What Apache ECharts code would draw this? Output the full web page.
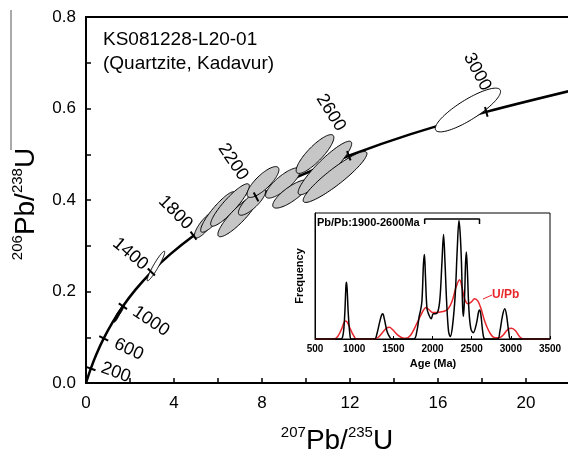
<!DOCTYPE html>
<html><head><meta charset="utf-8">
<script src="https://cdn.jsdelivr.net/npm/echarts@6/dist/echarts.min.js"></script>
<style>html,body{margin:0;padding:0;background:#fff}#c{width:568px;height:452px}</style>
</head><body><div id="c"></div>
<script>
// ---- Concordia reference curve (age in Ma, 207Pb/235U, 206Pb/238U)
const concAge = [0,200,400,600,800,1000,1200,1400,1600,1800,2000,2200,2400,2600,2800,3000,3200];
const concX = [0,0.2177,0.4828,0.8057,1.1988,1.6774,2.2603,2.9701,3.8345,4.8870,6.1688,7.7298,9.6304,11.9450,14.7617,18.1955,22.3746];
const concY = [0,0.0315,0.0640,0.0975,0.1321,0.1678,0.2046,0.2426,0.2817,0.3221,0.3638,0.4067,0.4511,0.4968,0.5440,0.5926,0.6428];
const tickAges = [200,600,1000,1400,1800,2200,2600,3000];

// ---- Analyses: grey ellipses (centre, half-extent x, half-extent y, error correlation)
const greyX   = [5.409,6.0,6.545,6.909,7.545,8.045,8.955,9.318,10.86,11.32,10.41];
const greyY   = [0.3454,0.3738,0.3891,0.365,0.3956,0.4393,0.4372,0.4131,0.470,0.4503,0.5005];
const greySx  = [0.482,0.788,0.880,0.914,0.618,0.724,0.793,0.83,1.217,1.45,0.857];
const greySy  = [0.0284,0.0443,0.0464,0.0453,0.0289,0.0337,0.0331,0.0308,0.0585,0.0556,0.0424];
const greyRho = [0.814,0.896,0.896,0.882,0.80,0.797,0.812,0.802,0.911,0.919,0.846];
// open ellipses
const openX   = [3.18,17.36];
const openY   = [0.2557,0.5967];
const openSx  = [0.399,1.484];
const openSy  = [0.0323,0.0478];
const openRho = [0.944,0.846];
// small black ellipses
const blackX   = [1.43,1.60];
const blackY   = [0.147,0.160];
const blackSx  = [0.16,0.14];
const blackSy  = [0.014,0.012];
const blackRho = [0.9,0.9];

// ---- Inset: probability curves
const pbAge = [500,830,860,880,895,902,910,925,945,965,1260,1290,1320,1350,1365,1385,1420,1450,1480,1760,1800,1830,1845,1865,1885,1897,1910,1930,1955,1983,2010,2040,2070,2095,2120,2141,2160,2180,2205,2227,2255,2290,2315,2338,2355,2370,2385,2395,2410,2422,2432,2445,2465,2490,2520,2560,2590,2603,2620,2645,2670,2830,2860,2895,2923,2945,2975,3000,3500];
const pbVal = [0,0,0.04,0.2,0.42,0.45,0.40,0.2,0.04,0,0,0.04,0.12,0.19,0.2,0.16,0.06,0.02,0,0,0.06,0.18,0.22,0.3,0.6,0.67,0.5,0.24,0.19,0.16,0.2,0.2,0.22,0.32,0.6,0.83,0.6,0.3,0.06,0.02,0.1,0.35,0.7,0.94,0.82,0.6,0.25,0.18,0.35,0.6,0.69,0.55,0.23,0.08,0.05,0.12,0.22,0.23,0.18,0.04,0,0,0.06,0.19,0.24,0.19,0.05,0,0];
const upbAge = [500,740,790,840,870,893,915,950,990,1030,1250,1300,1360,1410,1449,1490,1550,1610,1660,1720,1790,1860,1918,1960,2000,2050,2100,2150,2200,2250,2300,2346,2380,2410,2450,2490,2538,2580,2620,2667,2731,2795,2850,2900,2960,3009,3060,3110,3160,3500];
const upbVal = [0,0,0.02,0.08,0.13,0.143,0.13,0.08,0.03,0,0,0.01,0.05,0.085,0.093,0.075,0.035,0.01,0.005,0.03,0.11,0.2,0.25,0.23,0.21,0.21,0.215,0.22,0.24,0.3,0.41,0.47,0.4,0.32,0.28,0.29,0.32,0.3,0.24,0.14,0.05,0.01,0.01,0.03,0.075,0.085,0.065,0.02,0,0];
const bracketAges = [1900,2600];
const bracketLevels = [0.913,0.952];

// ---- Tick labels
const xTickLabels = ['0','4','8','12','16','20'];
const yTickLabels = ['0.0','0.2','0.4','0.6','0.8'];
const insetXLabels = ['500','1000','1500','2000','2500','3000','3500'];

const FF = '"Liberation Sans", Arial, Helvetica, sans-serif';
// label placement style for concordia age labels (offset px, rotation deg)
const tickLabelStyle = [
  {dx:25,dy:4,rot:-20},{dx:25,dy:11,rot:-25},{dx:28,dy:15,rot:-34},{dx:-21,dy:-18,rot:-40},
  {dx:-18,dy:-23,rot:-45},{dx:-23,dy:-35,rot:-56},{dx:-18,dy:-43,rot:-58},{dx:-9,dy:-40,rot:-62}
];

const chart = echarts.init(document.getElementById('c'), null, {renderer:'canvas'});

function ellipseSeries(xs, ys, sxs, sys, rhos, fill, z) {
  return {
    type:'custom', xAxisIndex:0, yAxisIndex:0, z:z, clip:true, silent:true,
    data: xs.map((x,i)=>[x, ys[i], sxs[i], sys[i], rhos[i]]),
    encode:{x:0, y:1},
    renderItem:(params, api)=>{
      const cx=api.value(0), cy=api.value(1), sx=api.value(2), sy=api.value(3), r=api.value(4);
      const k=Math.sqrt(1-r*r); const pts=[];
      for(let j=0;j<90;j++){const t=j/90*2*Math.PI;
        pts.push(api.coord([cx+sx*Math.cos(t), cy+sy*(r*Math.cos(t)+k*Math.sin(t))]));}
      return {type:'polygon', shape:{points:pts}, style:{fill:fill, stroke:'#000', lineWidth:1}};
    }
  };
}

const concData = concX.map((x,i)=>[x, concY[i]]);
const tickData = tickAges.map(a=>{
  const i = concAge.indexOf(a);
  return [concX[i], concY[i], concX[i-1], concY[i-1], concX[i+1], concY[i+1], a];
});
const bracketData = [[bracketAges[0],bracketLevels[0]],[bracketAges[0],bracketLevels[1]],[bracketAges[1],bracketLevels[1]],[bracketAges[1],bracketLevels[0]]];

const option = {
  backgroundColor:'#fff',
  animation:false,
  grid:[
    {left:86, top:17, right:-2, bottom:69, show:true, borderColor:'#000', borderWidth:2, backgroundColor:'transparent', outerBoundsMode:'none', containLabel:false},
    {left:315, top:213, width:235, height:126, show:true, borderColor:'#000', borderWidth:1, backgroundColor:'#fff', z:10, outerBoundsMode:'none', containLabel:false}
  ],
  xAxis:[
    {type:'value', gridIndex:0, min:0, max:22, interval:2,
     axisLine:{show:true, onZero:false, lineStyle:{color:'#000', width:2}},
     axisTick:{show:true, inside:true, length:5, lineStyle:{color:'#000', width:1.5}},
     axisLabel:{color:'#000', fontSize:17, fontFamily:FF, margin:12,
       formatter:v=>{const i=xTickLabels.indexOf(String(Math.round(v))); return (Math.round(v)%4===0 && i>=0)?xTickLabels[i]:'';}},
     splitLine:{show:false}},
    {type:'value', gridIndex:1, min:500, max:3500, interval:500, z:11,
     axisLine:{show:true, onZero:false, lineStyle:{color:'#000', width:1}},
     axisTick:{show:true, inside:true, length:3, lineStyle:{color:'#000'}},
     axisLabel:{color:'#000', fontSize:10, fontWeight:'bold', fontFamily:FF, margin:5,
       formatter:v=>{const s=String(v); return insetXLabels.indexOf(s)>=0?s:'';}},
     splitLine:{show:false}}
  ],
  yAxis:[
    {type:'value', gridIndex:0, min:0, max:0.8, interval:0.1,
     axisLine:{show:true, onZero:false, lineStyle:{color:'#000', width:2}},
     axisTick:{show:true, inside:true, length:5, lineStyle:{color:'#000', width:1.5}},
     axisLabel:{color:'#000', fontSize:17, fontFamily:FF, margin:10,
       formatter:v=>{const s=v.toFixed(1); return yTickLabels.indexOf(s)>=0?s:'';}},
     splitLine:{show:false}},
    {type:'value', gridIndex:1, min:0, max:1, z:11,
     axisLine:{show:true, onZero:false, lineStyle:{color:'#000', width:1}},
     axisTick:{show:false}, axisLabel:{show:false}, splitLine:{show:false}}
  ],
  series:[
    {type:'line', xAxisIndex:0, yAxisIndex:0, data:concData, smooth:0.3, showSymbol:false, symbol:'none',
     lineStyle:{color:'#000', width:2.5}, z:2, clip:true, silent:true},
    ellipseSeries(openX, openY, openSx, openSy, openRho, '#fff', 3),
    ellipseSeries(blackX, blackY, blackSx, blackSy, blackRho, '#000', 3),
    ellipseSeries(greyX, greyY, greySx, greySy, greyRho, '#c6c6c6', 3),
    {type:'custom', xAxisIndex:0, yAxisIndex:0, z:4, clip:false, silent:true,
     data:tickData, encode:{x:0, y:1},
     renderItem:(params, api)=>{
       const p=api.coord([api.value(0), api.value(1)]);
       const a=api.coord([api.value(2), api.value(3)]);
       const b=api.coord([api.value(4), api.value(5)]);
       let dx=b[0]-a[0], dy=b[1]-a[1]; const L=Math.hypot(dx,dy); dx/=L; dy/=L;
       const nx=-dy, ny=dx, h=5;
       const st=tickLabelStyle[params.dataIndex];
       return {type:'group', children:[
         {type:'line', shape:{x1:p[0]-nx*h, y1:p[1]-ny*h, x2:p[0]+nx*h, y2:p[1]+ny*h}, style:{stroke:'#000', lineWidth:2}},
         {type:'text', x:p[0]+st.dx, y:p[1]+st.dy, rotation:st.rot*Math.PI/180,
          style:{text:String(api.value(6)), fontSize:18, fontFamily:FF, fill:'#000', align:'center', verticalAlign:'middle'}}
       ]};
     }},
    {type:'line', xAxisIndex:1, yAxisIndex:1, data:upbAge.map((a,i)=>[a,upbVal[i]]), smooth:0.35, showSymbol:false, symbol:'none',
     lineStyle:{color:'#e8262b', width:1.5}, z:12, silent:true},
    {type:'line', xAxisIndex:1, yAxisIndex:1, data:pbAge.map((a,i)=>[a,pbVal[i]]), smooth:0.35, showSymbol:false, symbol:'none',
     lineStyle:{color:'#000', width:1.5}, z:13, silent:true},
    {type:'line', xAxisIndex:1, yAxisIndex:1, data:bracketData, smooth:false, showSymbol:false, symbol:'none',
     lineStyle:{color:'#000', width:1.5}, z:13, silent:true}
  ],
  graphic:[
    {type:'line', z:100, silent:true, shape:{x1:11,y1:10,x2:11,y2:150}, style:{stroke:'#555', lineWidth:1}},
    {type:'text', z:100, silent:true, x:25, y:204, rotation:Math.PI/2,
     style:{text:'{s|206}{b|Pb/}{s|238}{b|U}', align:'center', verticalAlign:'middle', fill:'#000',
       rich:{s:{fontSize:15, fontFamily:FF, lineHeight:16, verticalAlign:'top', fill:'#000'}, b:{fontSize:28, fontFamily:FF, lineHeight:30, verticalAlign:'bottom', fill:'#000'}}}},
    {type:'text', z:100, silent:true, x:337, y:440,
     style:{text:'{s|207}{b|Pb/}{s|235}{b|U}', align:'center', verticalAlign:'middle', fill:'#000',
       rich:{s:{fontSize:15, fontFamily:FF, lineHeight:16, verticalAlign:'top', fill:'#000'}, b:{fontSize:28, fontFamily:FF, lineHeight:30, verticalAlign:'bottom', fill:'#000'}}}},
    {type:'text', z:100, silent:true, x:103, y:28,
     style:{text:'KS081228-L20-01\n(Quartzite, Kadavur)', fontSize:19, lineHeight:24, fontFamily:FF, fill:'#000', align:'left', verticalAlign:'top'}},
    {type:'text', z:100, silent:true, x:317, y:223,
     style:{text:'Pb/Pb:1900-2600Ma', fontSize:11, fontWeight:'bold', fontFamily:FF, fill:'#000', align:'left', verticalAlign:'middle'}},
    {type:'text', z:100, silent:true, x:300, y:276, rotation:Math.PI/2,
     style:{text:'Frequency', fontSize:11, fontWeight:'bold', fontFamily:FF, fill:'#000', align:'center', verticalAlign:'middle'}},
    {type:'text', z:100, silent:true, x:433, y:364,
     style:{text:'Age (Ma)', fontSize:11, fontWeight:'bold', fontFamily:FF, fill:'#000', align:'center', verticalAlign:'middle'}},
    {type:'line', z:100, silent:true, shape:{x1:483,y1:299,x2:492,y2:295}, style:{stroke:'#e8262b', lineWidth:1}},
    {type:'text', z:100, silent:true, x:492, y:295,
     style:{text:'U/Pb', fontSize:12, fontWeight:'bold', fontFamily:FF, fill:'#e8262b', align:'left', verticalAlign:'middle'}}
  ]
};
chart.setOption(option);
</script></body></html>
